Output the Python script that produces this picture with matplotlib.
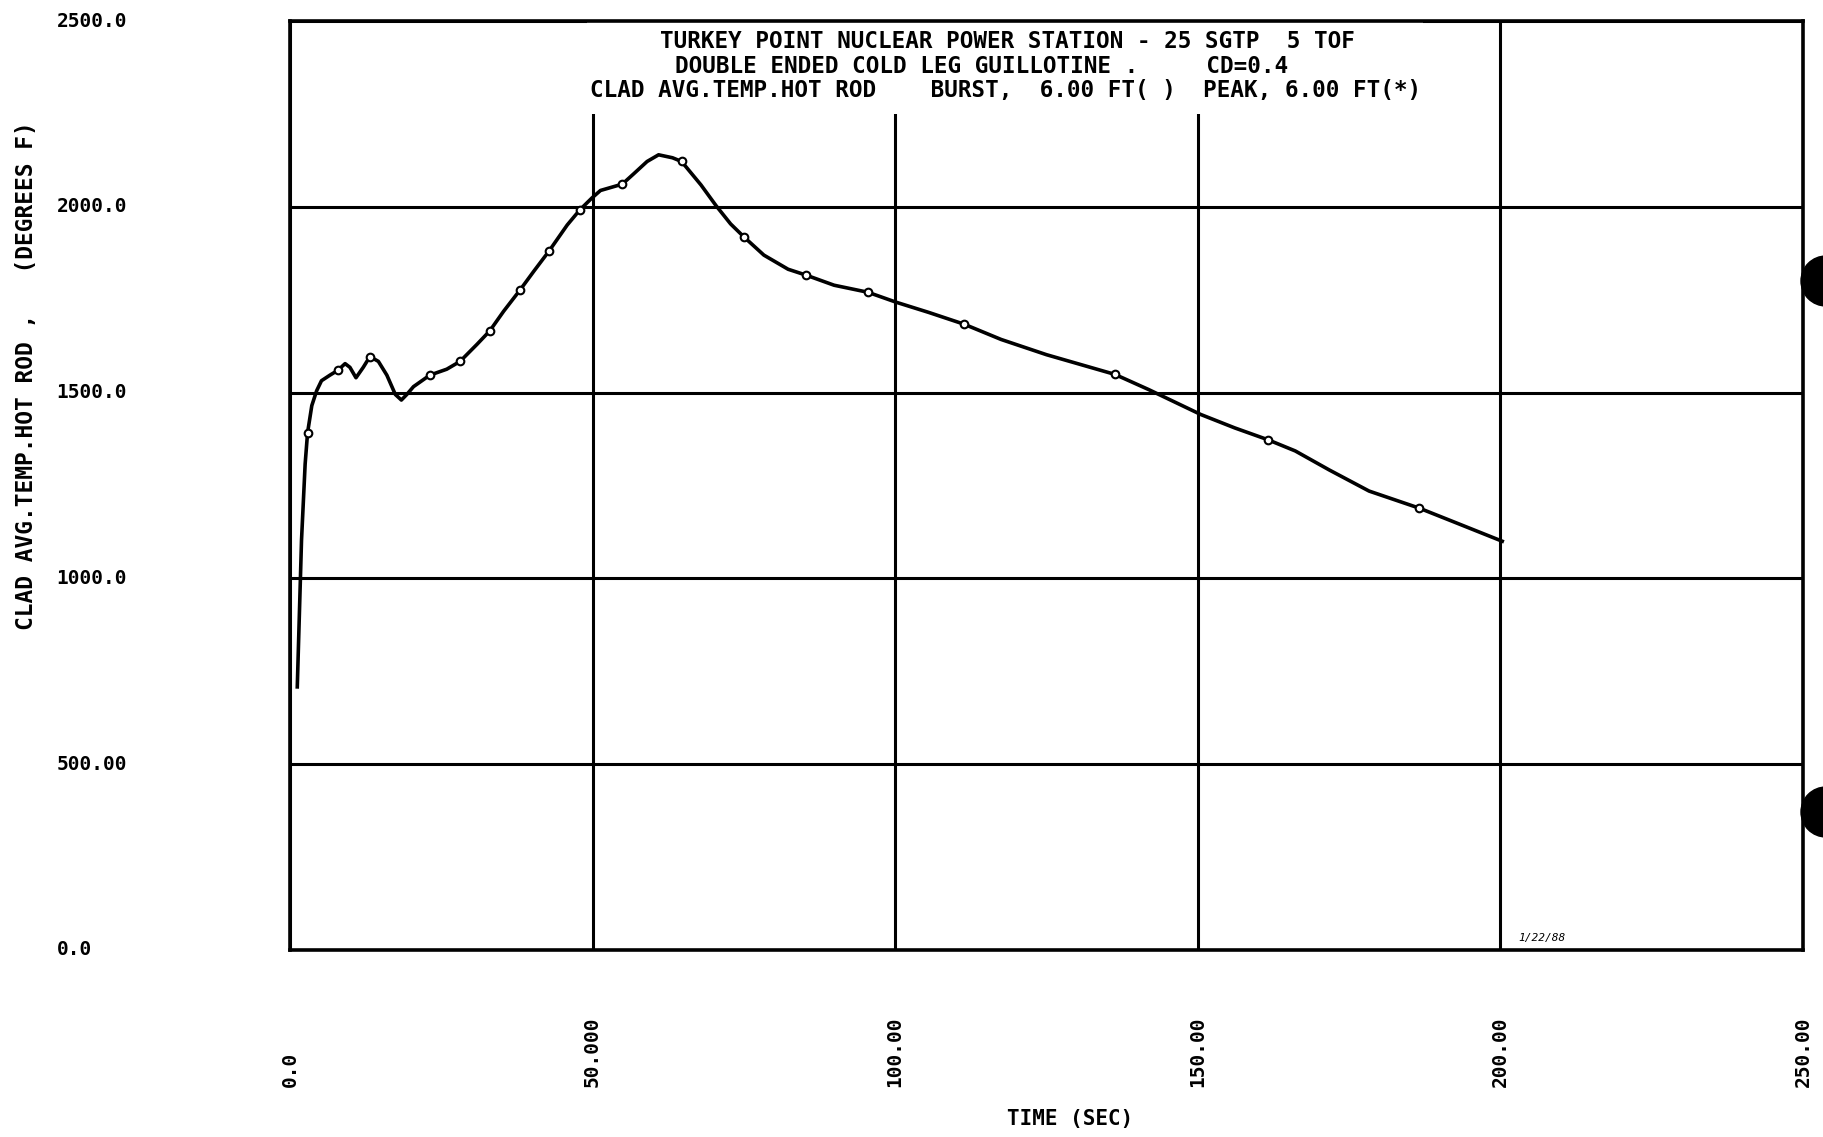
import matplotlib.pyplot as plt
from matplotlib.patches import Ellipse, Rectangle

# clad average temperature, hot rod
time_s = [1.2, 1.9, 2.5, 2.9, 3.6, 4.4, 5.2, 6.6, 7.9, 9.1, 9.9, 10.9, 12.1, 13.2,
          14.6, 16.0, 17.4, 18.4, 19.3, 20.4, 23.1, 25.9, 28.1, 30.9, 33.0, 35.3,
          38.0, 40.3, 42.8, 45.8, 47.9, 49.9, 51.3, 54.9, 56.8, 59.0, 60.9, 63.2,
          64.7, 67.9, 70.4, 72.8, 75.0, 78.3, 82.3, 85.3, 89.9, 95.5, 100.2, 105.5,
          111.4, 117.5, 125.0, 136.3, 141.9, 150.5, 156.1, 161.6, 166.1, 171.7,
          178.3, 186.6, 192.0, 200.3]
temp_f = [708, 1103, 1308, 1392, 1465, 1505, 1532, 1547, 1560, 1578, 1568, 1540,
          1568, 1597, 1584, 1547, 1495, 1480, 1495, 1516, 1547, 1563, 1584, 1630,
          1666, 1719, 1776, 1827, 1881, 1951, 1992, 2024, 2044, 2061, 2089, 2122,
          2140, 2132, 2122, 2059, 2003, 1954, 1919, 1870, 1832, 1816, 1789, 1770,
          1743, 1716, 1684, 1643, 1602, 1549, 1508, 1441, 1405, 1373, 1343, 1292,
          1235, 1189, 1154, 1100]

mark_t = [2.9, 7.9, 13.2, 23.1, 28.1, 33.0, 38.0, 42.8, 47.9, 54.9, 64.7, 75.0,
          85.3, 95.5, 111.4, 136.3, 161.6, 186.6]
mark_f = [1392, 1560, 1597, 1547, 1584, 1666, 1776, 1881, 1992, 2061, 2122, 1919,
          1816, 1770, 1684, 1549, 1373, 1189]

x_ticks = [0, 50, 100, 150, 200, 250]
x_labels = ['0.0', '50.000', '100.00', '150.00', '200.00', '250.00']
y_ticks = [0, 500, 1000, 1500, 2000, 2500]
y_labels = ['0.0', '500.00', '1000.0', '1500.0', '2000.0', '2500.0']

title_lines = ['TURKEY POINT NUCLEAR POWER STATION - 25 SGTP  5 TOF',
               'DOUBLE ENDED COLD LEG GUILLOTINE .     CD=0.4',
               'CLAD AVG.TEMP.HOT ROD    BURST,  6.00 FT( )  PEAK, 6.00 FT(*)']

mono = 'DejaVu Sans Mono'

fig = plt.figure(figsize=(18.24, 11.37), dpi=100)
ax = fig.add_axes([0.159, 0.1645, 0.8295, 0.817])

ax.plot(time_s, temp_f, color='black', lw=2.6, solid_joinstyle='round', zorder=3)
ax.plot(mark_t, mark_f, ls='none', marker='o', ms=5.5, mfc='white', mec='black', mew=1.5, zorder=4)

ax.set_xlim(0, 250)
ax.set_ylim(0, 2500)
ax.set_xticks(x_ticks)
ax.set_yticks(y_ticks)
ax.set_xticklabels(x_labels, rotation=90, rotation_mode='anchor', ha='left', va='center',
                   family=mono, fontsize=14, fontweight='bold')
ax.set_yticklabels(y_labels, ha='left', va='center', family=mono, fontsize=14, fontweight='bold')
ax.tick_params(axis='x', length=0, pad=99)
ax.tick_params(axis='y', length=0, pad=168)
ax.grid(True, color='black', lw=2.2)
ax.set_axisbelow(True)
for s in ax.spines.values():
    s.set_linewidth(2.6)

# heading block blanks out the grid behind it
ax.add_patch(Rectangle((0.196, 0.900), 0.553, 0.099, transform=ax.transAxes,
                       facecolor='white', edgecolor='none', zorder=1))
starts = [0.2445, 0.2543, 0.198]
ypos = [0.978, 0.951, 0.925]
for txt, x, y in zip(title_lines, starts, ypos):
    ax.text(x, y, txt, transform=ax.transAxes, ha='left', va='center',
            family=mono, fontsize=16.3, fontweight='bold', zorder=5)

ax.text(0.8116, 0.008, '1/22/88', transform=ax.transAxes, ha='left', va='bottom',
        family=mono, fontsize=8, fontstyle='italic')

fig.text(0.0143, 0.670, 'CLAD AVG.TEMP.HOT ROD ,   (DEGREES F)', rotation=90,
         ha='center', va='center', family=mono, fontsize=16.5, fontweight='bold')
fig.text(0.5866, 0.0158, 'TIME (SEC)', ha='center', va='center',
         family=mono, fontsize=15, fontweight='bold')

# punch holes on the scanned sheet
for yy in [1 - 281 / 1137, 1 - 812 / 1137]:
    fig.patches.append(Ellipse((1 + 2 / 1824, yy), 50 / 1824, 50 / 1137,
                               transform=fig.transFigure, color='black'))

fig.savefig('out.png', dpi=100, facecolor='white')
